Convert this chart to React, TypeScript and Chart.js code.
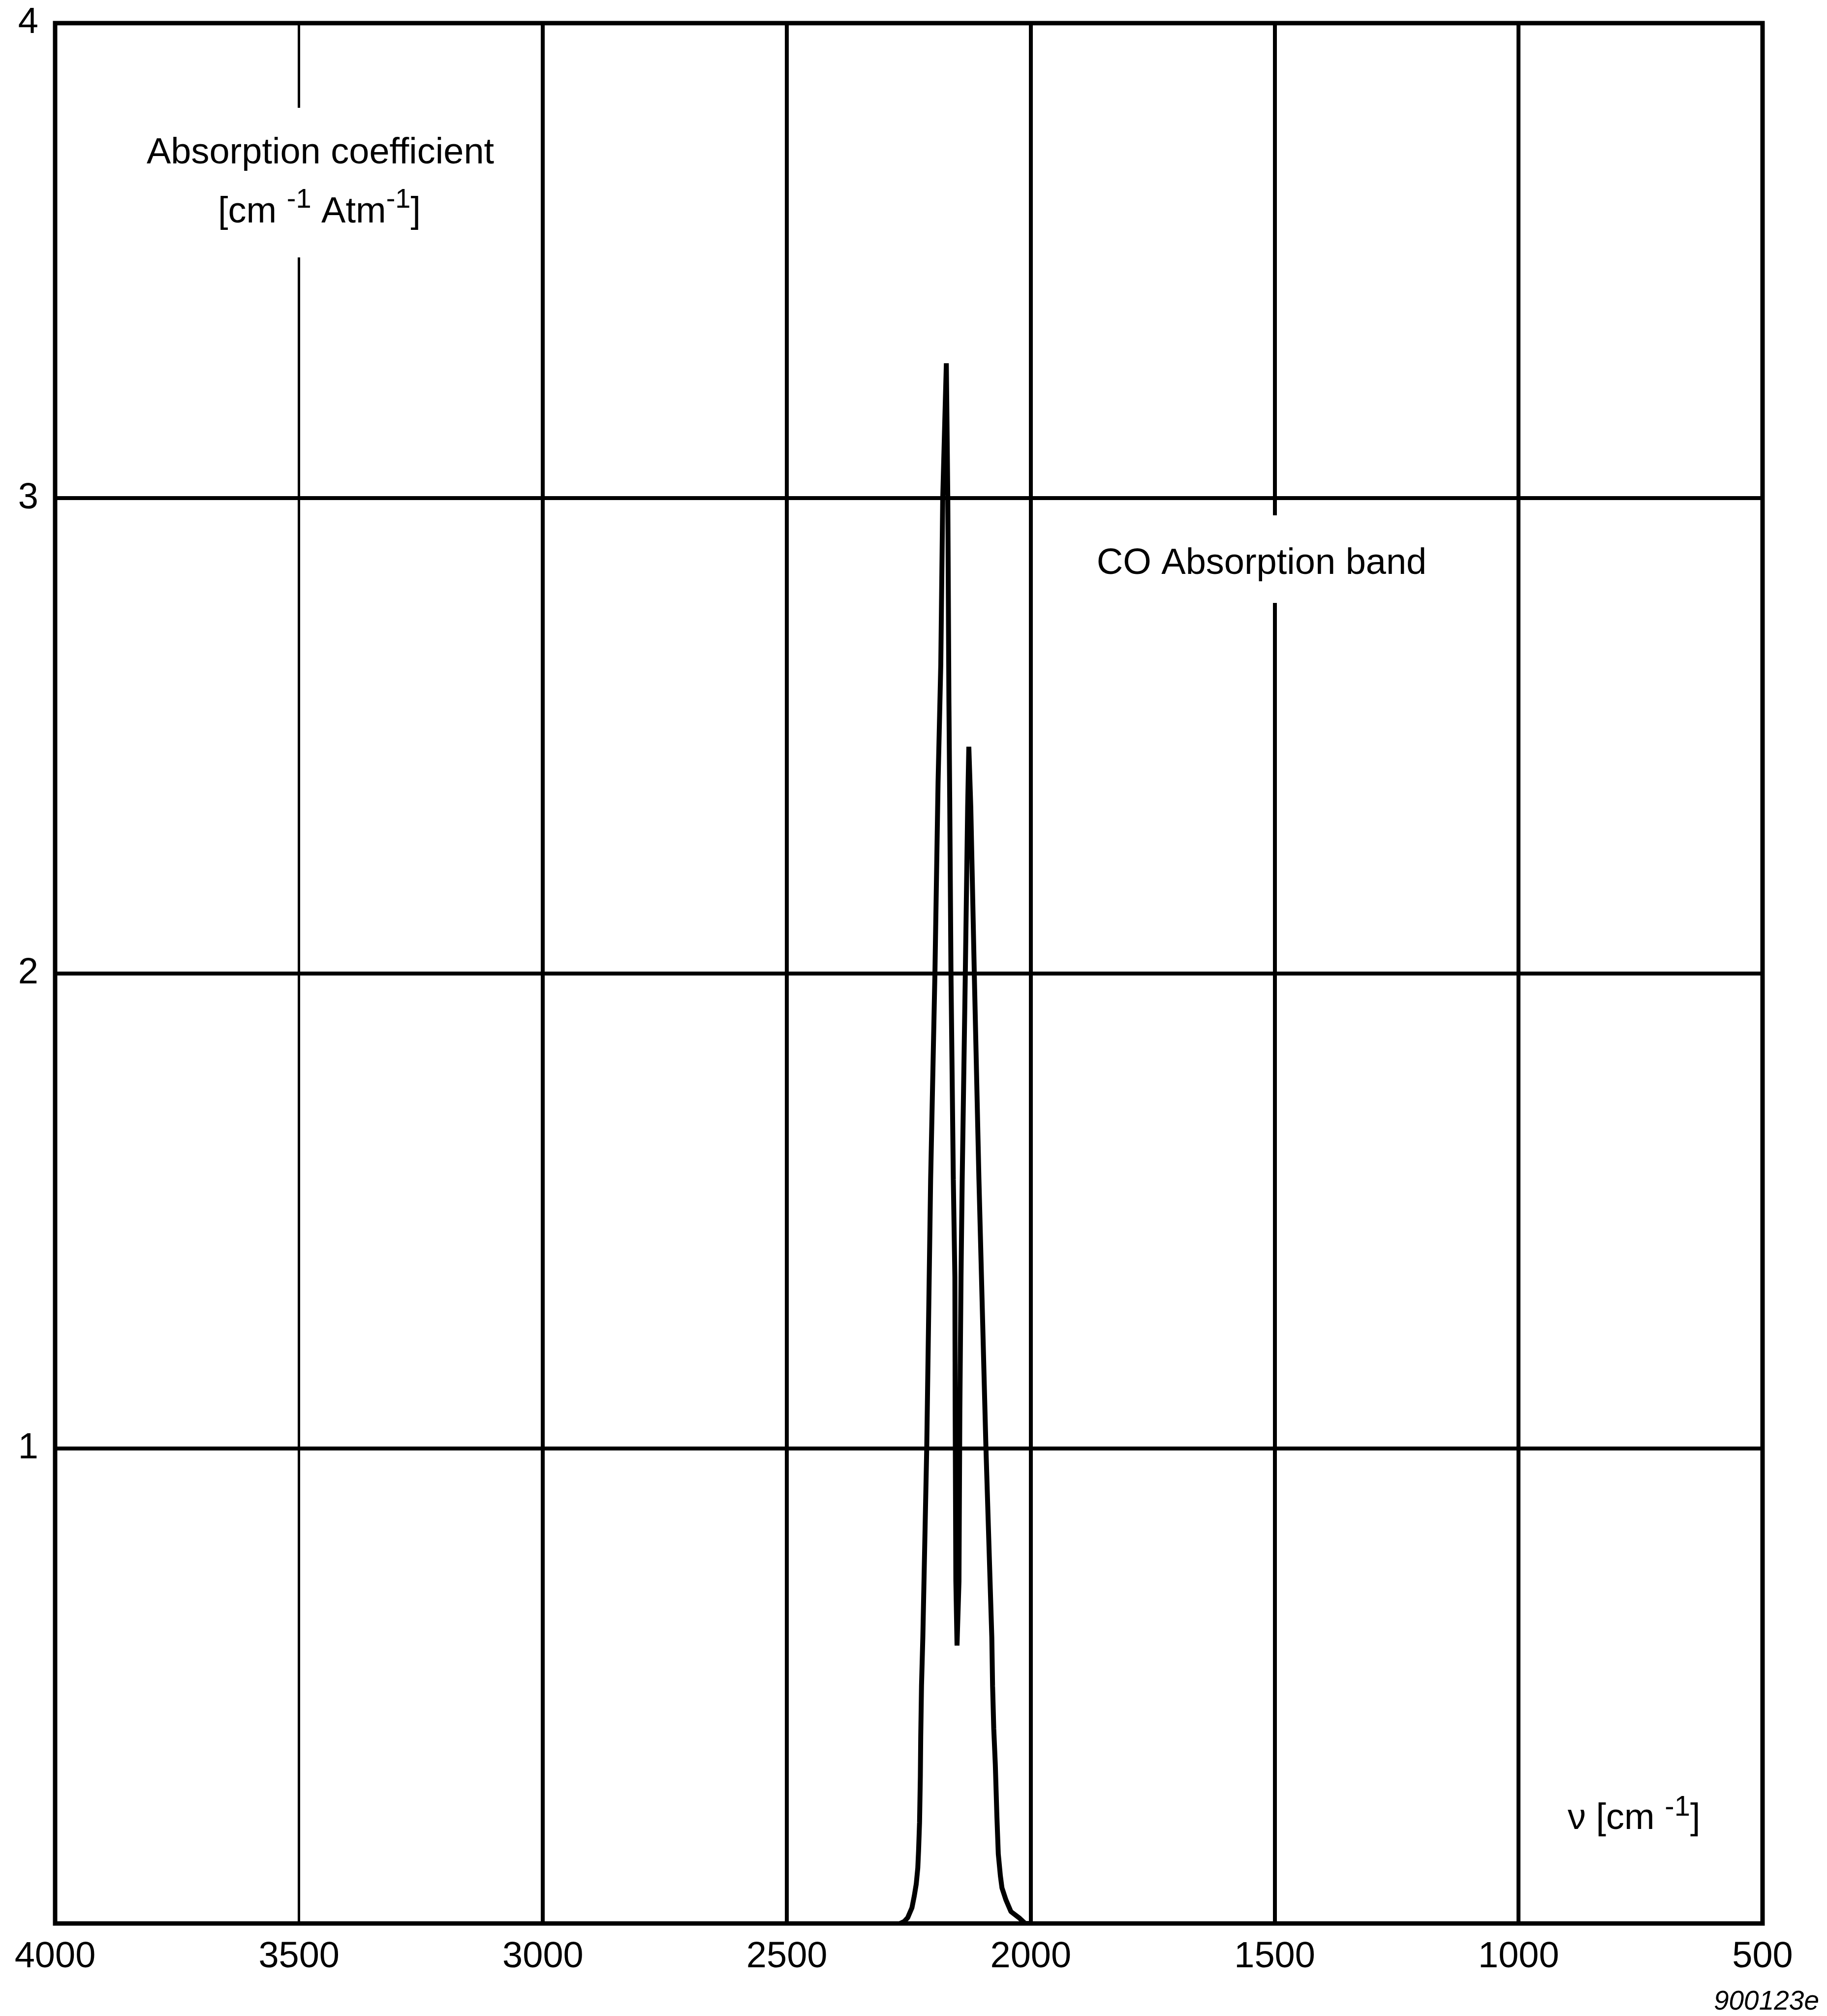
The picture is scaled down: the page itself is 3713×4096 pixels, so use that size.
import React, { useEffect, useRef } from "react";
import { Chart, registerables } from "chart.js";

Chart.register(...registerables);

// ---- data ----
const wavenumber = [
  2268, 2259.6, 2252.4, 2243.6, 2238.8, 2234.8, 2231.6, 2230.0, 2228.0, 2226.4,
  2225.6, 2224.0, 2221.3, 2213.3, 2205.3, 2196.5, 2190.1, 2184.5, 2180.5, 2173.1,
  2170.1, 2167.8, 2166.2, 2163.6, 2158.8, 2155.6, 2155.0, 2153.6, 2151.2, 2147.2,
  2145.4, 2143.0, 2140.6, 2134.2, 2129.4, 2127.0, 2123.0, 2115.8, 2106.3, 2091.9,
  2079.9, 2078.3, 2075.9, 2072.7, 2069.5, 2066.6, 2062.3, 2059.1, 2051.1, 2040.7,
  2024.0, 2011.6, 2000,
];
const absorption = [
  0, 0.004, 0.012, 0.033, 0.058, 0.083, 0.117, 0.154, 0.213, 0.309,
  0.393, 0.5, 0.602, 1.0, 1.566, 2.0, 2.4, 2.65, 3.0, 3.284,
  3.0, 2.57, 2.37, 2.0, 1.566, 1.36, 1.08, 0.72, 0.585, 0.72,
  1.08, 1.36, 1.566, 2.0, 2.35, 2.477, 2.35, 2.0, 1.566, 1.0,
  0.602, 0.5, 0.41, 0.334, 0.226, 0.146, 0.1, 0.075, 0.05, 0.025,
  0.012, 0, 0,
];
const xTickValues = [4000, 3500, 3000, 2500, 2000, 1500, 1000, 500];
const yTickValues = [0, 1, 2, 3, 4];
const yTickLabels = ["", "1", "2", "3", "4"];

const yTitle = "Absorption coefficient";
const yUnitParts: [string, boolean][] = [
  ["[cm ", false],
  ["-1", true],
  [" Atm", false],
  ["-1", true],
  ["]", false],
];
const bandLabel = "CO Absorption band";
const xUnitParts: [string, boolean][] = [
  ["ν [cm ", false],
  ["-1", true],
  ["]", false],
];
const figureId = "900123e";

const W = 3713;
const H = 4096;
const FONT = '"Liberation Sans", Arial, Helvetica, sans-serif';

function drawParts(
  ctx: CanvasRenderingContext2D,
  parts: [string, boolean][],
  x: number,
  baseline: number,
  align: "left" | "center",
  size: number,
  supSize: number,
  supRaise: number
) {
  const main = `${size}px ${FONT}`;
  const sup = `${supSize}px ${FONT}`;
  let total = 0;
  for (const [t, s] of parts) {
    ctx.font = s ? sup : main;
    total += ctx.measureText(t).width;
  }
  let cx = align === "center" ? x - total / 2 : x;
  ctx.textAlign = "left";
  for (const [t, s] of parts) {
    ctx.font = s ? sup : main;
    ctx.fillText(t, cx, s ? baseline - supRaise : baseline);
    cx += ctx.measureText(t).width;
  }
}

const annotationPlugin = {
  id: "annotationPlugin",
  beforeDatasetsDraw(chart: any) {
    const ctx: CanvasRenderingContext2D = chart.ctx;
    ctx.save();
    ctx.fillStyle = "#fff";
    ctx.fillRect(280, 219, 742, 304);
    ctx.fillRect(2213, 1047, 703, 178);
    ctx.fillStyle = "#000";
    ctx.textBaseline = "alphabetic";
    ctx.font = `74px ${FONT}`;
    ctx.textAlign = "center";
    ctx.fillText(yTitle, 651, 332);
    drawParts(ctx, yUnitParts, 649, 452, "center", 74, 56, 30);
    ctx.font = `74px ${FONT}`;
    ctx.textAlign = "center";
    ctx.fillText(bandLabel, 2564, 1166);
    drawParts(ctx, xUnitParts, 3186, 3716, "left", 74, 58, 27);
    ctx.font = `italic 55px ${FONT}`;
    ctx.textAlign = "right";
    ctx.fillText(figureId, 3697, 4083);
    ctx.restore();
  },
  afterDatasetsDraw(chart: any) {
    const { ctx, chartArea } = chart;
    ctx.save();
    ctx.strokeStyle = "#000";
    ctx.lineWidth = 9;
    ctx.strokeRect(
      chartArea.left,
      chartArea.top,
      chartArea.right - chartArea.left,
      chartArea.bottom - chartArea.top
    );
    ctx.restore();
  },
};

export default function App() {
  const ref = useRef<HTMLCanvasElement | null>(null);

  useEffect(() => {
    document.body.style.overflow = "hidden";
    const canvas = ref.current;
    if (!canvas) return;
    const points = wavenumber.map((v, i) => ({ x: v, y: absorption[i] }));
    const chart = new Chart(canvas, {
      type: "scatter",
      data: {
        datasets: [
          {
            data: points,
            showLine: true,
            borderColor: "#000",
            backgroundColor: "#000",
            borderWidth: 10,
            borderJoinStyle: "bevel",
            pointRadius: 0,
            pointHoverRadius: 0,
            tension: 0,
            fill: false,
          } as any,
        ],
      },
      options: {
        responsive: false,
        animation: false,
        devicePixelRatio: 1,
        layout: { padding: { left: 0, top: 47, right: W - 3582, bottom: 0 } },
        plugins: {
          legend: { display: false },
          tooltip: { enabled: false },
        },
        scales: {
          x: {
            type: "linear",
            reverse: true,
            min: 500,
            max: 4000,
            afterBuildTicks: (s: any) => {
              s.ticks = xTickValues.map((v) => ({ value: v }));
            },
            afterFit: (s: any) => {
              s.height = H - 3908;
              s.paddingLeft = 0;
              s.paddingRight = 0;
            },
            grid: {
              color: "#000",
              lineWidth: (c: any) => (c.tick && c.tick.value === 3500 ? 5 : 8),
              drawTicks: false,
            },
            border: { display: false },
            ticks: {
              color: "#000",
              font: { family: FONT, size: 74 },
              padding: 24,
              maxRotation: 0,
              autoSkip: false,
              callback: (v: any) => String(v),
            },
          },
          y: {
            type: "linear",
            min: 0,
            max: 4,
            afterBuildTicks: (s: any) => {
              s.ticks = yTickValues.map((v) => ({ value: v }));
            },
            afterFit: (s: any) => {
              s.width = 112;
              s.paddingTop = 0;
              s.paddingBottom = 0;
            },
            grid: { color: "#000", lineWidth: 8, drawTicks: false },
            border: { display: false },
            ticks: {
              color: "#000",
              font: { family: FONT, size: 74 },
              padding: 34,
              autoSkip: false,
              callback: (v: any) => {
                const i = yTickValues.indexOf(Number(v));
                return i >= 0 ? yTickLabels[i] : "";
              },
            },
          },
        },
      },
      plugins: [annotationPlugin],
    });
    return () => chart.destroy();
  }, []);

  return (
    <div style={{ position: "absolute", left: 0, top: 0, width: W, height: H, background: "#fff" }}>
      <canvas ref={ref} width={W} height={H} style={{ display: "block", width: W, height: H }} />
    </div>
  );
}
